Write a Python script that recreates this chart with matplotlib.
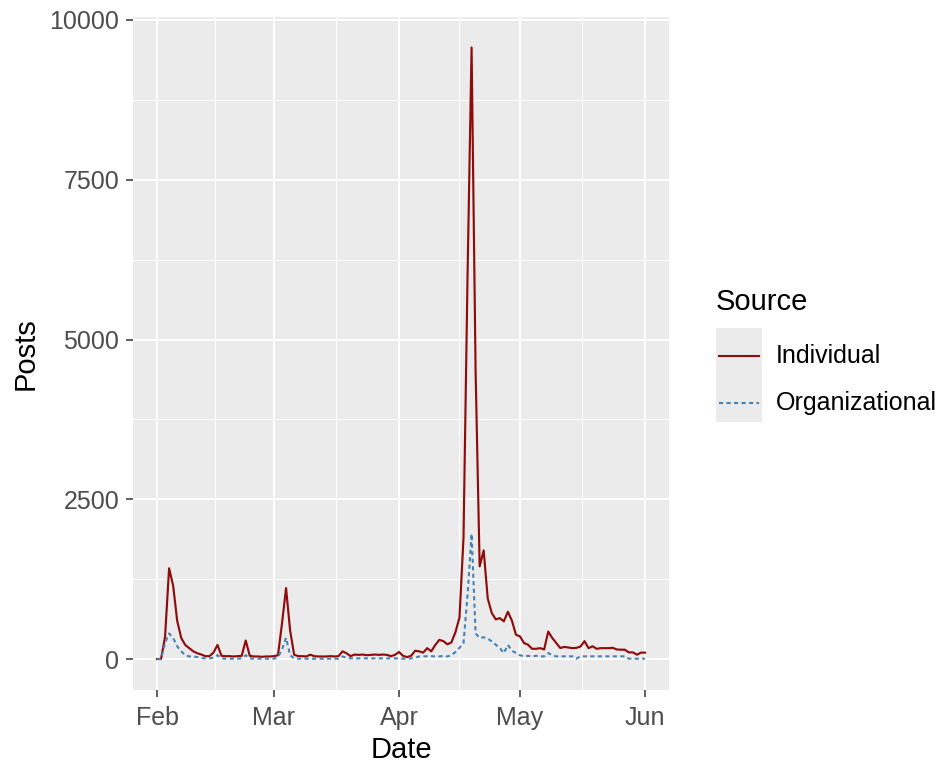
import numpy as np
import pandas as pd
import matplotlib
matplotlib.use("Agg")
import matplotlib.pyplot as plt
import matplotlib.dates as mdates
from matplotlib.lines import Line2D
from matplotlib.patches import Rectangle

plt.rcParams['font.family'] = ['Liberation Sans', 'DejaVu Sans']

# ---------------- data ----------------
dates = pd.date_range("2020-02-01", "2020-06-01", freq="D")

individual = [
    0, 0, 350, 1420, 1150, 600, 330, 220, 170, 120,
    90, 70, 45, 45, 100, 220, 50, 45, 45, 40,
    45, 50, 290, 50, 40, 40, 35, 40, 40, 45,
    60, 560, 1110, 450, 68, 45, 45, 40, 68, 45,
    40, 40, 40, 45, 40, 45, 120, 90, 45, 70,
    65, 70, 60, 65, 70, 65, 70, 65, 45, 65,
    110, 50, 30, 50, 130, 120, 100, 170, 120, 220,
    300, 280, 230, 260, 420, 650, 1900, 6000, 9570, 4500,
    1450, 1700, 950, 720, 620, 640, 590, 740, 600, 380,
    354, 250, 224, 160, 160, 170, 150, 430, 330, 250,
    172, 190, 180, 170, 175, 195, 280, 170, 200, 160,
    170, 170, 170, 175, 150, 146, 146, 104, 104, 68,
    100, 100,
]

organizational = [
    0, 0, 250, 400, 330, 200, 120, 60, 40, 40,
    30, 15, 10, 10, 20, 60, 10, 5, 5, 5,
    5, 10, 60, 10, 5, 5, 5, 5, 5, 5,
    30, 150, 330, 60, 10, 5, 5, 5, 5, 5,
    5, 5, 5, 5, 5, 5, 40, 20, 10, 10,
    10, 10, 10, 10, 10, 10, 10, 10, 10, 10,
    10, 5, 5, 10, 20, 40, 40, 45, 45, 40,
    40, 50, 40, 60, 110, 175, 250, 1000, 1960, 400,
    330, 340, 320, 276, 224, 172, 94, 220, 130, 94,
    60, 42, 50, 42, 50, 42, 42, 94, 60, 42,
    42, 42, 42, 42, 5, 42, 42, 42, 42, 42,
    42, 42, 42, 42, 42, 42, 42, 5, 5, 5,
    5, 5,
]

series_names = ["Individual", "Organizational"]
series_colors = ["#8E0C0C", "#4682B4"]
y_ticks = [0, 2500, 5000, 7500, 10000]
x_title = "Date"
y_title = "Posts"
legend_title = "Source"

# ---------------- figure ----------------
W, H = 937, 762
fig = plt.figure(figsize=(W / 100, H / 100), dpi=100)
fig.patch.set_facecolor("white")

left, right, top, bottom = 132.6, 669.4, 16.9, 689.6
ax = fig.add_axes([left / W, 1 - bottom / H, (right - left) / W, (bottom - top) / H])
ax.set_facecolor("#EBEBEB")

dotted = (0, (2, 1.6))
ax.plot(dates, individual, color=series_colors[0], lw=1.55, zorder=3)
ax.plot(dates, organizational, color=series_colors[1], lw=1.5, zorder=3,
        linestyle=dotted)

# limits with ggplot-like 5% expansion
x0, x1 = mdates.date2num(dates[0]), mdates.date2num(dates[-1])
xr = x1 - x0
ax.set_xlim(x0 - 0.05 * xr, x1 + 0.05 * xr)
ymax = max(max(individual), max(organizational))
ax.set_ylim(-0.05 * ymax, ymax * 1.05)

# ticks
major_dates = pd.to_datetime(["2020-02-01", "2020-03-01", "2020-04-01", "2020-05-01", "2020-06-01"])
major_nums = mdates.date2num(major_dates)
ax.set_xticks(major_nums)
ax.set_xticklabels([d.strftime("%b") for d in major_dates])
ax.set_xticks((major_nums[:-1] + major_nums[1:]) / 2, minor=True)
ax.set_yticks(y_ticks)
ax.set_yticklabels([str(v) for v in y_ticks])
ax.set_yticks([(a + b) / 2 for a, b in zip(y_ticks[:-1], y_ticks[1:])], minor=True)

ax.grid(which="major", color="white", lw=1.45, zorder=1)
ax.grid(which="minor", color="white", lw=0.75, zorder=1)
ax.set_axisbelow(True)
for s in ax.spines.values():
    s.set_visible(False)

ax.tick_params(which="major", length=5, width=1.1, color="#333333",
               labelsize=18, labelcolor="#4D4D4D")
ax.tick_params(axis="x", which="major", pad=7)
ax.tick_params(axis="y", which="major", pad=4.5)
ax.tick_params(which="minor", length=0)

ax.set_xlabel(x_title, fontsize=21, color="black", labelpad=4)
ax.set_ylabel(y_title, fontsize=21, color="black", labelpad=7)

# ---------------- legend (ggplot style) ----------------
def fx(px):
    return px / W

def fy(py):
    return 1 - py / H

fig.text(fx(716), fy(302), legend_title, fontsize=21, ha="left", va="center")
fig.add_artist(Rectangle((fx(716), fy(422)), fx(46), 94 / H,
                         transform=fig.transFigure, facecolor="#EBEBEB",
                         edgecolor="none"))
key_y = [356, 403]
styles = ["-", dotted]
for name, col, ls, ky in zip(series_names, series_colors, styles, key_y):
    fig.add_artist(Line2D([fx(719), fx(759)], [fy(ky), fy(ky)],
                          transform=fig.transFigure, color=col, lw=1.5,
                          linestyle=ls))
    fig.text(fx(776), fy(ky), name, fontsize=18, ha="left", va="center")

fig.savefig("out.png", dpi=100)
